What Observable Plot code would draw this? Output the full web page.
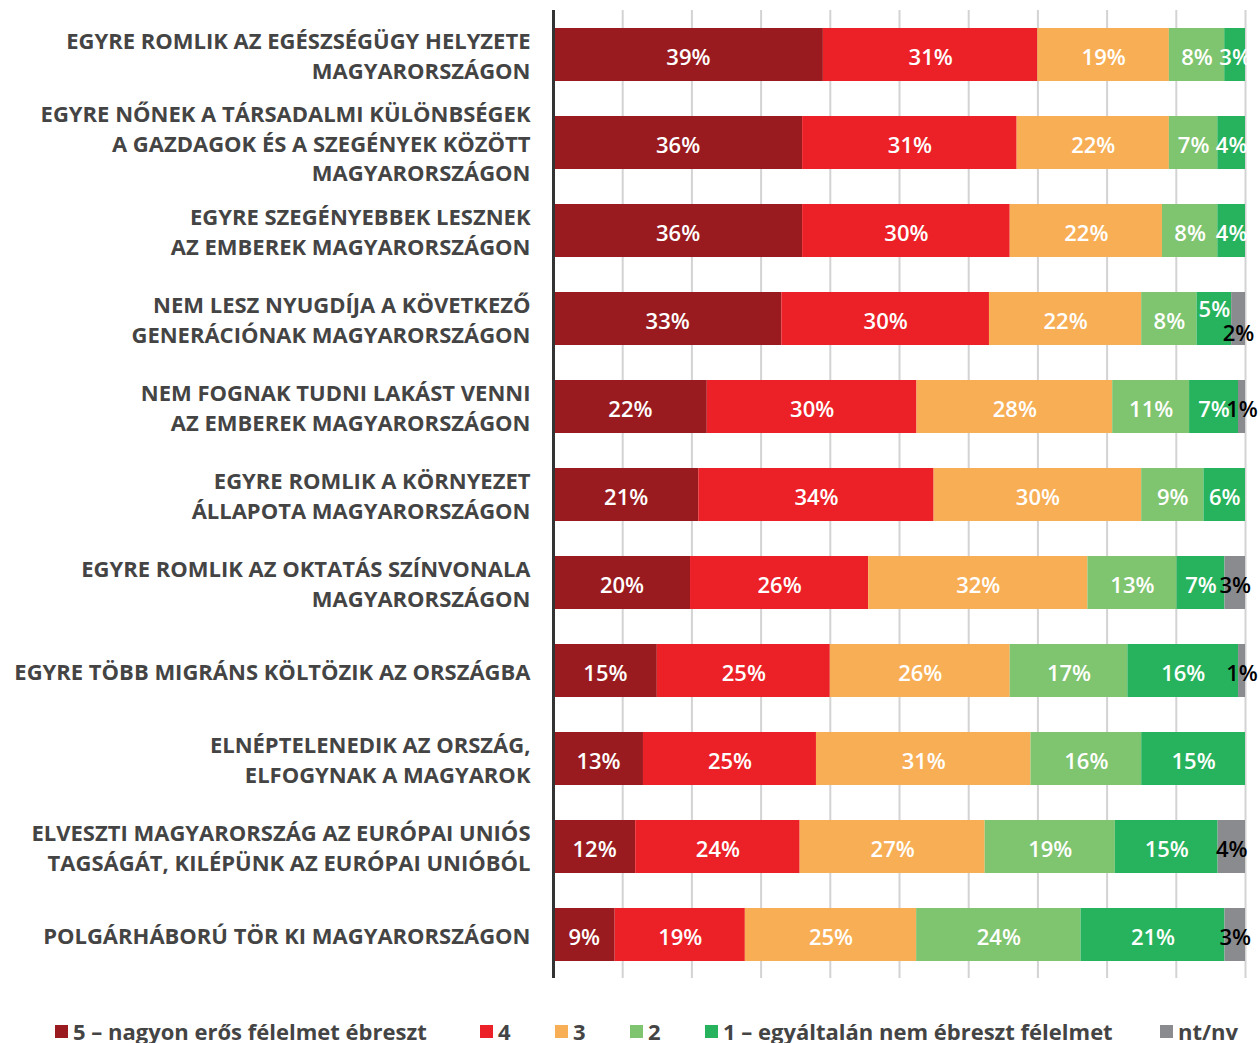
<!DOCTYPE html>
<html><head><meta charset="utf-8">
<script src="https://cdn.jsdelivr.net/npm/d3@7"></script>
<script src="https://cdn.jsdelivr.net/npm/@observablehq/plot@0.6"></script>
<style>
body{margin:0;background:#fff;font-family:"Open Sans",sans-serif;}
#legend{position:relative;height:55px;font-size:22px;font-weight:700;color:#444;line-height:26px;white-space:nowrap;}
#legend .it{position:absolute;top:30px;display:flex;align-items:center;}
#legend .sw{width:13px;height:13px;margin-right:5px;}
</style></head>
<body><div id="chart"></div><div id="legend"></div>
<script>
const categories = [
"EGYRE ROMLIK AZ EGÉSZSÉGÜGY HELYZETE\nMAGYARORSZÁGON",
"EGYRE NŐNEK A TÁRSADALMI KÜLÖNBSÉGEK\nA GAZDAGOK ÉS A SZEGÉNYEK KÖZÖTT\nMAGYARORSZÁGON",
"EGYRE SZEGÉNYEBBEK LESZNEK\nAZ EMBEREK MAGYARORSZÁGON",
"NEM LESZ NYUGDÍJA A KÖVETKEZŐ\nGENERÁCIÓNAK MAGYARORSZÁGON",
"NEM FOGNAK TUDNI LAKÁST VENNI\nAZ EMBEREK MAGYARORSZÁGON",
"EGYRE ROMLIK A KÖRNYEZET\nÁLLAPOTA MAGYARORSZÁGON",
"EGYRE ROMLIK AZ OKTATÁS SZÍNVONALA\nMAGYARORSZÁGON",
"EGYRE TÖBB MIGRÁNS KÖLTÖZIK AZ ORSZÁGBA",
"ELNÉPTELENEDIK AZ ORSZÁG,\nELFOGYNAK A MAGYAROK",
"ELVESZTI MAGYARORSZÁG AZ EURÓPAI UNIÓS\nTAGSÁGÁT, KILÉPÜNK AZ EURÓPAI UNIÓBÓL",
"POLGÁRHÁBORÚ TÖR KI MAGYARORSZÁGON"
];
const levels = ["5 – nagyon erős félelmet ébreszt","4","3","2","1 – egyáltalán nem ébreszt félelmet","nt/nv"];
const colors = ["#9a1b1f","#ec2027","#f8ae54","#7fc46f","#27b35d","#898b8e"];
const v5 = [39,36,36,33,22,21,20,15,13,12,9];
const v4 = [31,31,30,30,30,34,26,25,25,24,19];
const v3 = [19,22,22,22,28,30,32,26,31,27,25];
const v2 = [8,7,8,8,11,9,13,17,16,19,24];
const v1 = [3,4,4,5,7,6,7,16,15,15,21];
const vNv = [0,0,0,2,1,0,3,1,0,4,3];
const series = [v5,v4,v3,v2,v1,vNv];
const legendLeft = [55,480,555,630,705,1160];

const data = [];
categories.forEach((c,i)=>{
  series.forEach((s,j)=>{ data.push({cat:c, level:levels[j], value:s[i], row:i}); });
});
const NV = levels[5], L1 = levels[4];
const isUp = d => d.row===3 && d.level===L1;
const isDown = d => d.row===3 && d.level===NV;
const lab = d => d.value>0 ? d.value+"%" : "";
const stack = o => Plot.stackX({x:"value", y:"cat", z:"level", offset:"normalize", order:null, ...o});
const font = {fontSize:22, fontWeight:600, fontFamily:"Open Sans"};

const chart = Plot.plot({
  width:1260, height:988,
  marginLeft:553, marginRight:15, marginTop:10, marginBottom:10,
  x:{domain:[0,1], axis:null},
  y:{domain:categories, axis:null, padding:0.4, paddingOuter:0.2},
  color:{domain:levels, range:colors},
  marks:[
    Plot.ruleX(d3.range(1,11).map(k=>k/10), {stroke:"#d3d3d3", strokeWidth:2}),
    Plot.barX(data, stack({fill:"level"})),
    Plot.ruleX([0], {stroke:"#333", strokeWidth:3}),
    Plot.text(data, stack({text:d=> (d.level===NV||isUp(d)) ? "" : lab(d), fill:"white", dy:3, ...font})),
    Plot.text(data, stack({text:d=> isUp(d) ? lab(d) : "", fill:"white", dy:-9, ...font})),
    Plot.text(data, stack({text:d=> (d.level===NV && !isDown(d)) ? lab(d) : "", fill:"black", dy:3, ...font})),
    Plot.text(data, stack({text:d=> isDown(d) ? lab(d) : "", fill:"black", dy:15, ...font})),
    Plot.text(categories, {x:0, y:d=>d, text:d=>d, textAnchor:"end", dx:-23, dy:-1, lineHeight:1.36, fill:"#444", fontSize:22, fontWeight:700, fontFamily:"Open Sans"})
  ]
});
document.getElementById("chart").append(chart);

const lg = document.getElementById("legend");
levels.forEach((l,i)=>{
  const it = document.createElement("div"); it.className="it"; it.style.left = legendLeft[i]+"px";
  const sw = document.createElement("span"); sw.className="sw"; sw.style.background=colors[i];
  const tx = document.createElement("span"); tx.textContent=l;
  it.append(sw,tx); lg.append(it);
});
</script></body></html>
